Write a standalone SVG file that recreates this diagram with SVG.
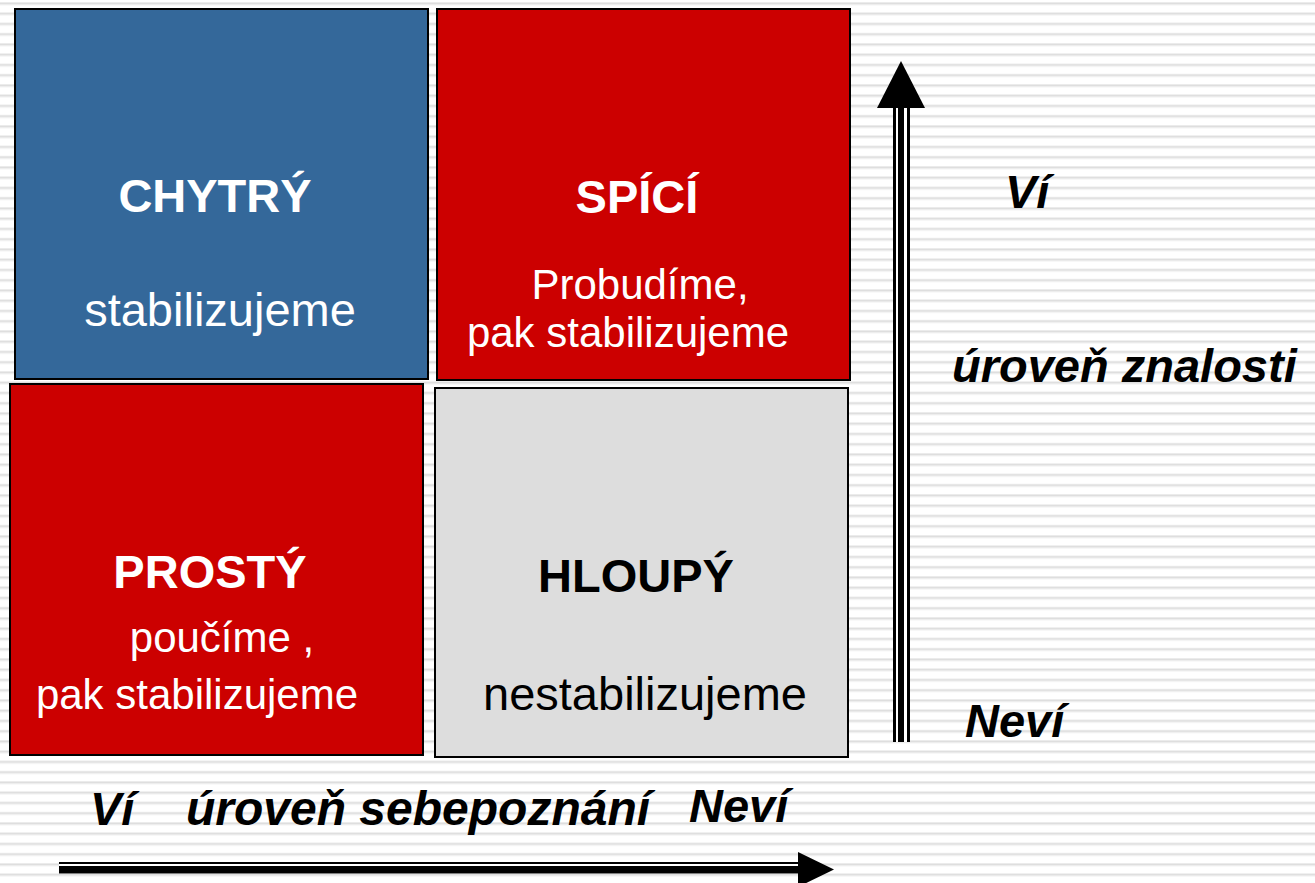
<svg xmlns="http://www.w3.org/2000/svg" width="1315" height="883" viewBox="0 0 1315 883">
<defs>
<pattern id="stripes" patternUnits="userSpaceOnUse" x="0" y="2" width="20" height="10.25">
<rect x="0" y="0" width="20" height="10.25" fill="#ffffff"/>
<rect x="0" y="0" width="20" height="0.8" fill="#ededed"/>
<rect x="0" y="0.8" width="20" height="1.6" fill="#dcdcdc"/>
<rect x="0" y="2.4" width="20" height="0.8" fill="#ededed"/>
</pattern>
<style>
.box{stroke:#000;stroke-width:2}
.blue{fill:#34689a}
.red{fill:#cc0000}
.gray{fill:#dddddd}
.t{font-family:"Liberation Sans",Arial,sans-serif;font-size:47px;text-anchor:middle}
.s{font-size:42px}
.b{font-weight:bold}
.w{fill:#ffffff}
.k{fill:#000000}
.ax{font-family:"Liberation Sans",Arial,sans-serif;font-size:47px;font-weight:bold;font-style:italic;fill:#000}
</style>
</defs>
<rect x="0" y="0" width="1315" height="883" fill="url(#stripes)"/>

<g id="chytry">
<rect class="box blue" x="15" y="9" width="413" height="370"/>
<text class="t b w" x="215" y="212">CHYTRÝ</text>
<text class="t w" x="220" y="326">stabilizujeme</text>
</g>

<g id="spici">
<rect class="box red" x="437" y="9" width="413" height="371"/>
<text class="t b w" x="637" y="213">SPÍCÍ</text>
<text class="t s w" x="640" y="299">Probudíme,</text>
<text class="t s w" x="628" y="347">pak stabilizujeme</text>
</g>

<g id="prosty">
<rect class="box red" x="10" y="384" width="413" height="371"/>
<text class="t b w" x="210" y="588">PROSTÝ</text>
<text class="t s w" x="222" y="652">poučíme ,</text>
<text class="t s w" x="197" y="709">pak stabilizujeme</text>
</g>

<g id="hloupy">
<rect class="box gray" x="435" y="388" width="413" height="369"/>
<text class="t b k" x="636" y="592">HLOUPÝ</text>
<text class="t k" x="645" y="710">nestabilizujeme</text>
</g>

<g id="connectors">
<g id="axis-vertical">
<rect x="893" y="106" width="17" height="636" fill="#ffffff"/>
<rect x="893" y="106" width="3" height="636" fill="#000"/>
<rect x="898" y="106" width="6" height="636" fill="#000"/>
<rect x="907" y="106" width="3" height="636" fill="#000"/>
<polygon points="901,61 925,108 877,108" fill="#000"/>
</g>
<g id="axis-horizontal">
<rect x="59" y="861.5" width="740" height="12.5" fill="#ffffff"/>
<rect x="59" y="862" width="740" height="2" fill="#000"/>
<rect x="59" y="866" width="740" height="7.5" fill="#000"/>
<polygon points="798,852 834,869.5 798,887" fill="#000"/>
</g>
</g>

<g id="labels">
<text class="ax" x="1005" y="208">Ví</text>
<text class="ax" x="952" y="382">úroveň znalosti</text>
<text class="ax" x="965" y="737">Neví</text>
<text class="ax" x="90" y="825">Ví</text>
<text class="ax" x="186" y="825" style="font-size:48px">úroveň sebepoznání</text>
<text class="ax" x="689" y="822">Neví</text>
</g>
</svg>
